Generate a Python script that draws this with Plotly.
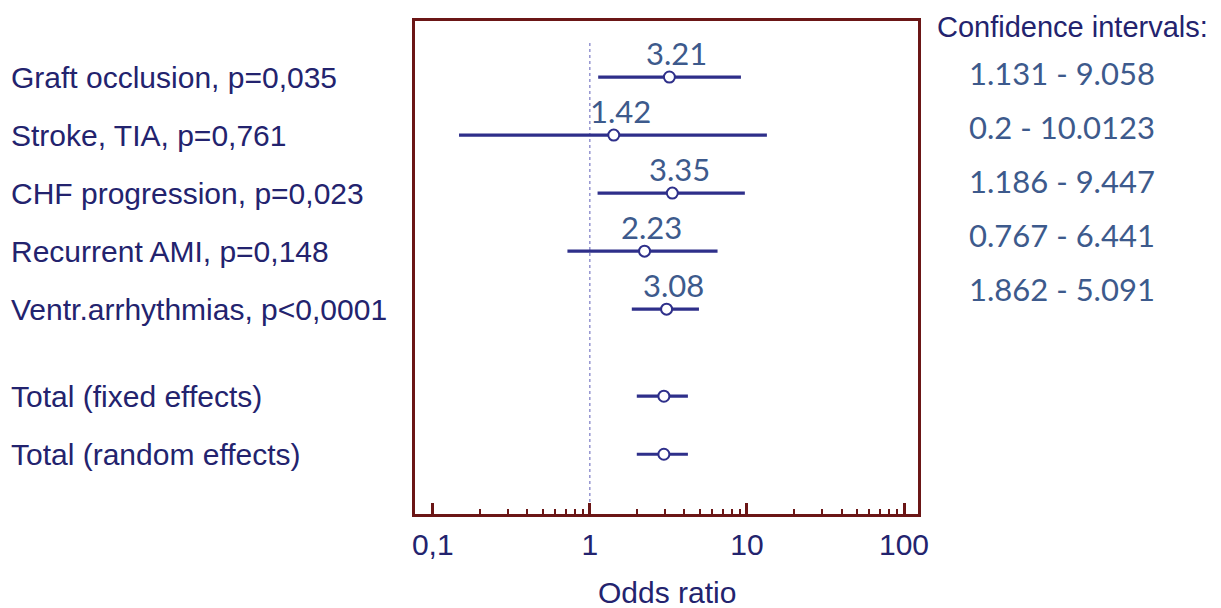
import math
import plotly.graph_objects as go

# ---- data ----
labels = ["Graft occlusion, p=0,035", "Stroke, TIA, p=0,761", "CHF progression, p=0,023",
          "Recurrent AMI, p=0,148", "Ventr.arrhythmias, p<0,0001",
          "Total (fixed effects)", "Total (random effects)"]
row_pos = [0, 1, 2, 3, 4, 5.5, 6.5]
odds = [3.21, 1.42, 3.35, 2.23, 3.08, 2.96, 2.96]
ci_low = [1.13, 0.147, 1.12, 0.72, 1.85, 1.99, 1.99]
ci_high = [9.16, 13.4, 9.7, 6.5, 4.95, 4.21, 4.21]
value_text = ["3.21", "1.42", "3.35", "2.23", "3.08", "", ""]
ci_text = ["1.131 - 9.058", "0.2 - 10.0123", "1.186 - 9.447", "0.767 - 6.441", "1.862 - 5.091"]
major_ticks = [0.1, 1, 10, 100]
major_text = ["0,1", "1", "10", "100"]
minor_ticks = [m * d for d in (0.1, 1, 10) for m in range(2, 10)]

NAVY = "#23236e"
LINE = "#2e2f8a"
VAL = "#3d5a8c"
FRAME = "#6b1616"
ARIAL = "Liberation Sans, Arial"
CALI = "Lato, Open Sans"

fig = go.Figure()

for i in range(len(labels)):
    fig.add_trace(go.Scatter(
        x=[ci_low[i], ci_high[i]], y=[row_pos[i], row_pos[i]],
        mode="lines", line=dict(color=LINE, width=3.2),
        showlegend=False, hoverinfo="skip"))

fig.add_trace(go.Scatter(
    x=odds, y=row_pos, mode="markers",
    marker=dict(symbol="circle", size=11, color="white",
                line=dict(color=LINE, width=2)),
    showlegend=False))

annotations = []
for i, lab in enumerate(labels):
    annotations.append(dict(
        x=-0.807, xref="paper", y=row_pos[i], yref="y", text=lab,
        showarrow=False, xanchor="left", yanchor="middle",
        font=dict(family=ARIAL, size=30, color=NAVY)))
    if value_text[i]:
        annotations.append(dict(
            x=math.log10(odds[i]), xref="x", y=row_pos[i], yref="y", text=value_text[i],
            showarrow=False, xanchor="center", yanchor="bottom", yshift=3, xshift=7,
            font=dict(family=CALI, size=31, color=VAL)))

annotations.append(dict(
    x=1.034, xref="paper", y=0.988, yref="paper", text="Confidence intervals:",
    showarrow=False, xanchor="left", yanchor="middle",
    font=dict(family=ARIAL, size=29, color=NAVY)))
for j, t in enumerate(ci_text):
    annotations.append(dict(
        x=1.286, xref="paper", y=0.8945 - j * 0.1095, yref="paper", text=t,
        showarrow=False, xanchor="center", yanchor="middle",
        font=dict(family=CALI, size=31, color=VAL)))
annotations.append(dict(
    x=0.5, xref="paper", y=-0.160, yref="paper", text="Odds ratio",
    showarrow=False, xanchor="center", yanchor="middle",
    font=dict(family=ARIAL, size=30, color=NAVY)))

fig.update_layout(
    width=1221, height=608,
    margin=dict(l=415, r=303, t=21, b=94),
    plot_bgcolor="white", paper_bgcolor="white",
    annotations=annotations,
    shapes=[dict(type="line", xref="x", yref="paper", x0=1, x1=1, y0=0, y1=0.959,
                 line=dict(color="#7a7ac4", width=1.2, dash="dot"), layer="below")],
    xaxis=dict(
        type="log", range=[-1.113, 2.089], automargin=False,
        tickmode="array", tickvals=major_ticks, ticktext=major_text,
        ticks="inside", ticklen=11, tickwidth=2.5, tickcolor=FRAME,
        minor=dict(tickmode="array", tickvals=minor_ticks, ticks="inside",
                   ticklen=5, tickwidth=1.5, tickcolor=FRAME),
        showgrid=False, zeroline=False,
        showline=True, mirror=True, linecolor=FRAME, linewidth=3,
        tickfont=dict(family=ARIAL, size=30, color=NAVY),
        ticklabelstandoff=2,
    ),
    yaxis=dict(
        range=[7.53, -0.966], showticklabels=False, ticks="", automargin=False,
        showgrid=False, zeroline=False,
        showline=True, mirror=True, linecolor=FRAME, linewidth=3,
    ),
)

fig.write_html("out.html", config={"displayModeBar": False})
with open("out.html", "r", encoding="utf-8") as f:
    html = f.read()
html = html.replace("<body>", '<body style="margin:0;overflow:hidden">', 1)
with open("out.html", "w", encoding="utf-8") as f:
    f.write(html)
